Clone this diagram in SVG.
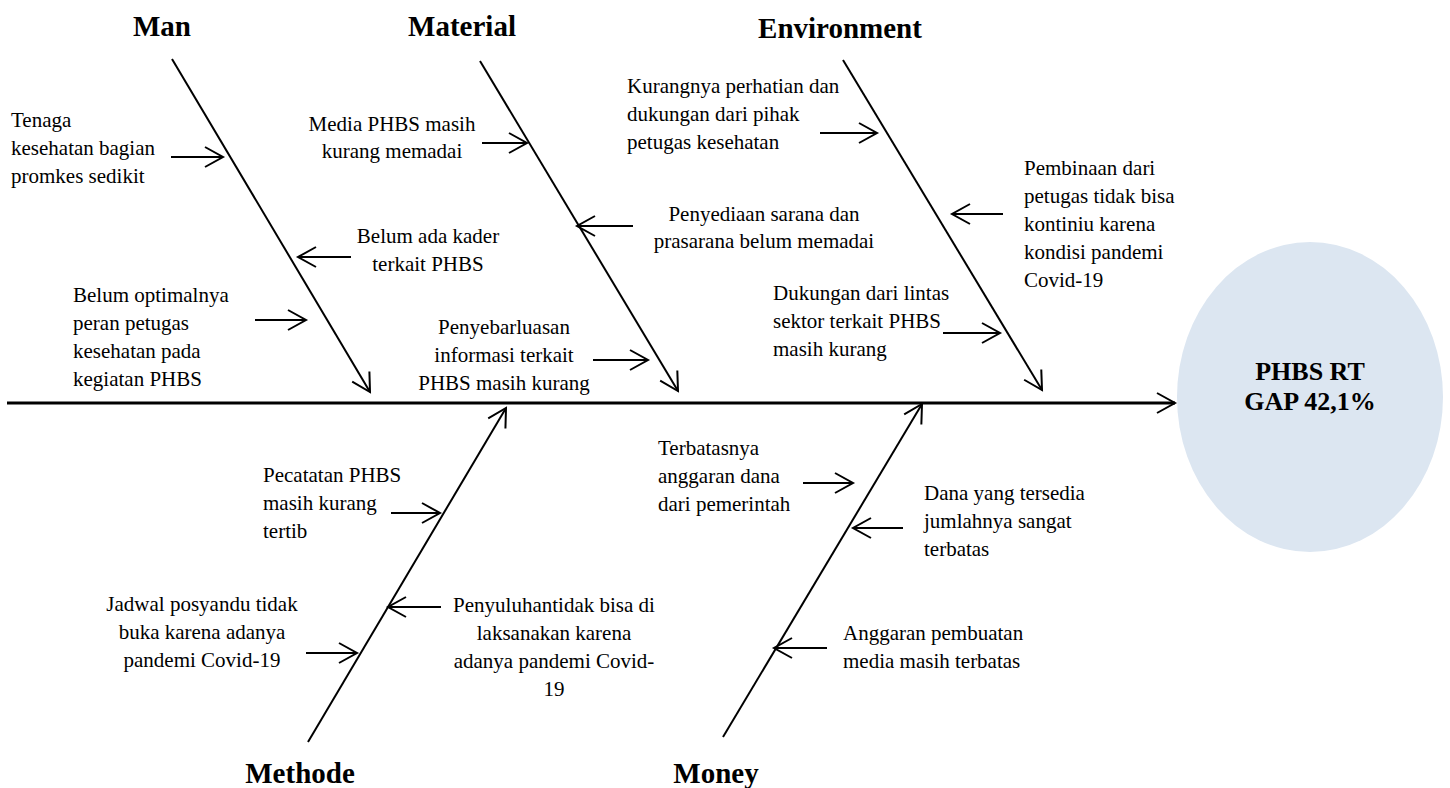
<svg xmlns="http://www.w3.org/2000/svg" width="1450" height="788" viewBox="0 0 1450 788">
<style>
  .t { font-family: "Liberation Serif", "Times New Roman", serif; font-size: 21px; fill: #000; }
  .lbl { font-family: "Liberation Serif", "Times New Roman", serif; font-size: 29px; font-weight: bold; fill: #000; text-anchor: middle; }
  .m { text-anchor: middle; }
  .c { stroke: #000; stroke-width: 2; fill: none; marker-end: url(#arr); }
  .spine { stroke: #000; stroke-width: 3; fill: none; marker-end: url(#arr); }
</style>
<defs>
  <marker id="arr" markerUnits="userSpaceOnUse" viewBox="-22 -12 26 24" markerWidth="26" markerHeight="24" refX="0" refY="0" orient="auto" overflow="visible">
    <path d="M-18,-10 L0,0 L-18,10" fill="none" stroke="#000" stroke-width="2"/>
  </marker>
</defs>
<rect width="1450" height="788" fill="#fff"/>

<g id="connectors">
  <line class="spine" x1="7" y1="403" x2="1175" y2="403"/>
  <line class="c" x1="172" y1="59" x2="370" y2="392"/>
  <line class="c" x1="480" y1="61" x2="678" y2="391"/>
  <line class="c" x1="843" y1="60" x2="1042" y2="390"/>
  <line class="c" x1="308" y1="742" x2="506" y2="408"/>
  <line class="c" x1="723" y1="737" x2="922" y2="404"/>
  <line class="c" x1="171" y1="157" x2="223" y2="157"/>
  <line class="c" x1="351" y1="257" x2="298" y2="257"/>
  <line class="c" x1="255" y1="320" x2="306" y2="320"/>
  <line class="c" x1="482" y1="143" x2="527" y2="143"/>
  <line class="c" x1="633" y1="226" x2="577" y2="226"/>
  <line class="c" x1="593" y1="360" x2="648" y2="360"/>
  <line class="c" x1="820" y1="133" x2="877" y2="133"/>
  <line class="c" x1="1003" y1="214" x2="952" y2="214"/>
  <line class="c" x1="943" y1="333" x2="1000" y2="333"/>
  <line class="c" x1="391" y1="513" x2="440" y2="513"/>
  <line class="c" x1="306" y1="653" x2="357" y2="653"/>
  <line class="c" x1="441" y1="607" x2="388" y2="607"/>
  <line class="c" x1="803" y1="483" x2="853" y2="483"/>
  <line class="c" x1="903" y1="528" x2="853" y2="528"/>
  <line class="c" x1="827" y1="648" x2="774" y2="648"/>
</g>

<g id="effect">
  <ellipse cx="1310" cy="397" rx="133" ry="155" fill="#dce6f1"/>
  <text class="lbl" style="font-size:26px"><tspan x="1310" y="380">PHBS RT</tspan><tspan x="1310" y="410">GAP 42,1%</tspan></text>
</g>

<g id="label-man"><text class="lbl" x="162" y="36">Man</text></g>
<g id="label-material"><text class="lbl" x="462" y="36">Material</text></g>
<g id="label-environment"><text class="lbl" x="840" y="38">Environment</text></g>
<g id="label-methode"><text class="lbl" x="300" y="783">Methode</text></g>
<g id="label-money"><text class="lbl" x="716" y="783">Money</text></g>

<g id="man-1"><text class="t"><tspan x="11" y="127">Tenaga</tspan><tspan x="11" y="155">kesehatan bagian</tspan><tspan x="11" y="183">promkes sedikit</tspan></text></g>
<g id="man-2"><text class="t m"><tspan x="428" y="243">Belum ada kader</tspan><tspan x="428" y="271">terkait PHBS</tspan></text></g>
<g id="man-3"><text class="t"><tspan x="73" y="302">Belum optimalnya</tspan><tspan x="73" y="330">peran petugas</tspan><tspan x="73" y="358">kesehatan pada</tspan><tspan x="73" y="386">kegiatan PHBS</tspan></text></g>

<g id="material-1"><text class="t m"><tspan x="392" y="131">Media PHBS masih</tspan><tspan x="392" y="158">kurang memadai</tspan></text></g>
<g id="material-2"><text class="t m"><tspan x="764" y="221">Penyediaan sarana dan</tspan><tspan x="764" y="248">prasarana belum memadai</tspan></text></g>
<g id="material-3"><text class="t m"><tspan x="504" y="334">Penyebarluasan</tspan><tspan x="504" y="362">informasi terkait</tspan><tspan x="504" y="390">PHBS masih kurang</tspan></text></g>

<g id="environment-1"><text class="t"><tspan x="627" y="93">Kurangnya perhatian dan</tspan><tspan x="627" y="121">dukungan dari pihak</tspan><tspan x="627" y="149">petugas kesehatan</tspan></text></g>
<g id="environment-2"><text class="t"><tspan x="1024" y="175">Pembinaan dari</tspan><tspan x="1024" y="203">petugas tidak bisa</tspan><tspan x="1024" y="231">kontiniu karena</tspan><tspan x="1024" y="259">kondisi pandemi</tspan><tspan x="1024" y="287">Covid-19</tspan></text></g>
<g id="environment-3"><text class="t"><tspan x="773" y="300">Dukungan dari lintas</tspan><tspan x="773" y="328">sektor terkait PHBS</tspan><tspan x="773" y="356">masih kurang</tspan></text></g>

<g id="methode-1"><text class="t"><tspan x="263" y="482">Pecatatan PHBS</tspan><tspan x="263" y="510">masih kurang</tspan><tspan x="263" y="538">tertib</tspan></text></g>
<g id="methode-2"><text class="t m"><tspan x="202" y="611">Jadwal posyandu tidak</tspan><tspan x="202" y="639">buka karena adanya</tspan><tspan x="202" y="667">pandemi Covid-19</tspan></text></g>
<g id="methode-3"><text class="t m"><tspan x="554" y="612">Penyuluhantidak bisa di</tspan><tspan x="554" y="640">laksanakan karena</tspan><tspan x="554" y="668">adanya pandemi Covid-</tspan><tspan x="554" y="696">19</tspan></text></g>

<g id="money-1"><text class="t"><tspan x="658" y="455">Terbatasnya</tspan><tspan x="658" y="483">anggaran dana</tspan><tspan x="658" y="511">dari pemerintah</tspan></text></g>
<g id="money-2"><text class="t"><tspan x="924" y="500">Dana yang tersedia</tspan><tspan x="924" y="528">jumlahnya sangat</tspan><tspan x="924" y="556">terbatas</tspan></text></g>
<g id="money-3"><text class="t"><tspan x="843" y="640">Anggaran pembuatan</tspan><tspan x="843" y="668">media masih terbatas</tspan></text></g>
</svg>
